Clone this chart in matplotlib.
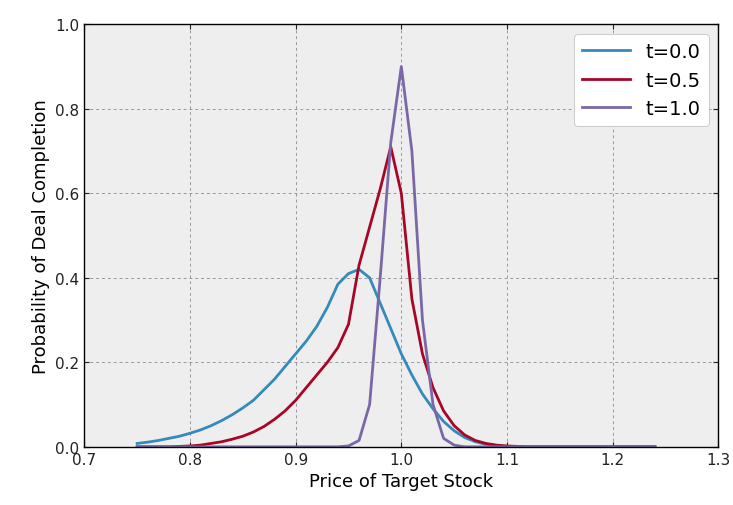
import numpy as np
import matplotlib
matplotlib.use('Agg')
from matplotlib import pyplot as plt

plt.style.use('bmh')

# price grid
price = np.round(np.arange(0.75, 1.245, 0.01), 2)

# probability curves
p_t0 = [0.008, 0.011, 0.015, 0.02, 0.025, 0.032, 0.04, 0.05, 0.062, 0.076,
        0.092, 0.11, 0.135, 0.16, 0.19, 0.22, 0.25, 0.285, 0.33, 0.385,
        0.41, 0.42, 0.40, 0.34, 0.28, 0.22, 0.17, 0.125, 0.09, 0.06,
        0.038, 0.022, 0.012, 0.006, 0.003, 0.001] + [0.0] * 14
p_t05 = [0.0, 0.0, 0.0, 0.0, 0.001, 0.002, 0.004, 0.008, 0.012, 0.018,
         0.025, 0.035, 0.048, 0.065, 0.085, 0.11, 0.14, 0.17, 0.20, 0.235,
         0.29, 0.43, 0.52, 0.61, 0.71, 0.60, 0.35, 0.22, 0.14, 0.085,
         0.05, 0.028, 0.015, 0.008, 0.004, 0.002, 0.001] + [0.0] * 13
p_t1 = [0.0] * 20 + [0.002, 0.015, 0.10, 0.40, 0.72, 0.90, 0.70, 0.30, 0.10, 0.02,
                     0.004] + [0.0] * 19

fig, ax = plt.subplots(figsize=(7.33, 5.06), dpi=100)
ax.plot(price, p_t0, color='#348ABD', lw=2, label='t=0.0')
ax.plot(price, p_t05, color='#A60628', lw=2, label='t=0.5')
ax.plot(price, p_t1, color='#7A68A6', lw=2, label='t=1.0')

ax.set_xlim(0.7, 1.3)
ax.set_ylim(0, 1.0)
ax.set_facecolor('#eeeeee')
ax.grid(True, color='#999999', linestyle=(0, (3, 3)), linewidth=0.7)
for s in ax.spines.values():
    s.set_color('black')
    s.set_linewidth(1)
ax.tick_params(direction='in', labelsize=11, colors='#222222', top=True, right=True)
ax.set_xlabel('Price of Target Stock', fontsize=13)
ax.set_ylabel('Probability of Deal Completion', fontsize=13)
leg = ax.legend(loc='upper right', fontsize=14, facecolor='white', edgecolor='#bbbbbb',
                framealpha=1, handlelength=2.5)

plt.subplots_adjust(left=0.115, right=0.98, top=0.95, bottom=0.115)
plt.savefig('out.png')
